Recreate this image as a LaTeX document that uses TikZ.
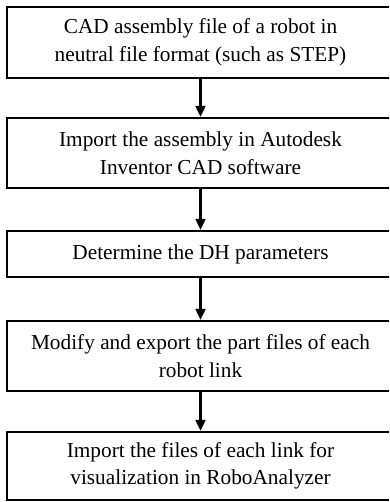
\documentclass[tikz,border=0pt]{standalone}
\usepackage{fontspec}
\setmainfont{Liberation Serif}
\usetikzlibrary{arrows.meta}
\begin{document}
\begin{tikzpicture}[x=1pt,y=1pt,
  stepbox/.style={draw=black,line width=2.4pt,minimum width=387pt,align=center,inner sep=0pt,
    font=\fontsize{21.3}{27.5}\selectfont},
  conn/.style={line width=2.2pt,-{Triangle[length=11pt,width=10pt]}}]
\useasboundingbox (0,0) rectangle (389,-502);
\clip (0,0) rectangle (389,-502);
\fill[white] (0,0) rectangle (389,-502);
\node[stepbox,minimum height=71pt] (b1) at (200.5,-42.5) {CAD assembly file of a robot in\\neutral file format (such as STEP)};
\node[stepbox,minimum height=70pt] (b2) at (200.5,-153) {Import the assembly in Autodesk\\Inventor CAD software};
\node[stepbox,minimum height=46pt] (b3) at (200.5,-254) {Determine the DH parameters};
\node[stepbox,minimum height=70pt] (b4) at (200.5,-356) {Modify and export the part files of each\\robot link};
\node[stepbox,minimum height=68pt] (b5) at (200.5,-466) {Import the files of each link for\\visualization in RoboAnalyzer};
\draw[conn] (b1) -- (b2);
\draw[conn] (b2) -- (b3);
\draw[conn] (b3) -- (b4);
\draw[conn] (b4) -- (b5);
\end{tikzpicture}
\end{document}
